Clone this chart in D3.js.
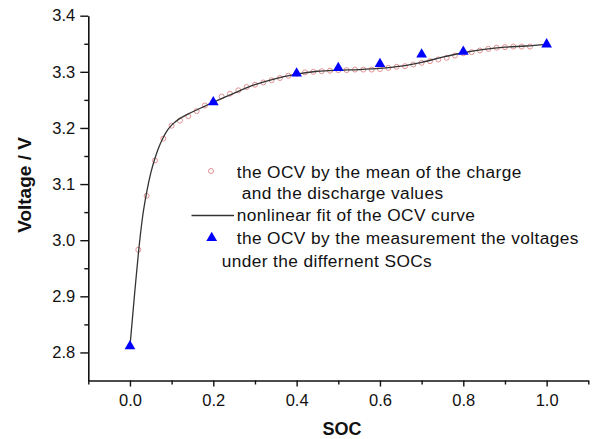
<!DOCTYPE html>
<html><head><meta charset="utf-8">
<script src="https://cdn.jsdelivr.net/npm/d3@7"></script>
<style>
html,body{margin:0;padding:0;background:#fff;}
svg{display:block;font-family:"Liberation Sans",Arial,Helvetica,sans-serif;}
</style></head><body>
<svg id="chart" width="592" height="439"></svg>
<script>
// Mean OCV (circles)
const meanSOC = [0.02,0.04,0.06,0.08,0.10,0.12,0.14,0.16,0.18,0.20,0.22,0.24,0.26,0.28,0.30,0.32,0.34,0.36,0.38,0.40,0.42,0.44,0.46,0.48,0.50,0.52,0.54,0.56,0.58,0.60,0.62,0.64,0.66,0.68,0.70,0.72,0.74,0.76,0.78,0.80,0.82,0.84,0.86,0.88,0.90,0.92,0.94,0.96];
const meanOCV = [2.983,3.079,3.142,3.181,3.204,3.213,3.221,3.230,3.240,3.247,3.256,3.261,3.267,3.273,3.277,3.281,3.285,3.289,3.293,3.297,3.299,3.300,3.301,3.302,3.303,3.303,3.304,3.304,3.304,3.305,3.307,3.309,3.310,3.313,3.316,3.319,3.322,3.325,3.329,3.333,3.335,3.338,3.341,3.343,3.344,3.345,3.345,3.345];
// Nonlinear fit (line)
const fitSOC = [0.00,0.01,0.02,0.03,0.04,0.05,0.06,0.07,0.08,0.09,0.10,0.12,0.14,0.16,0.18,0.20,0.25,0.30,0.35,0.40,0.45,0.50,0.55,0.60,0.65,0.70,0.75,0.80,0.85,0.90,0.95,1.00];
const fitOCV = [2.811,2.895,2.975,3.040,3.085,3.120,3.146,3.167,3.183,3.196,3.205,3.217,3.225,3.232,3.239,3.246,3.262,3.277,3.288,3.296,3.301,3.303,3.304,3.306,3.310,3.317,3.326,3.334,3.340,3.344,3.346,3.349];
// Measured OCV (triangles)
const measSOC = [0.0,0.2,0.4,0.5,0.6,0.7,0.8,1.0];
const measOCV = [2.811,3.246,3.297,3.307,3.314,3.331,3.336,3.349];
// Ticks
const xMajor = [0.0,0.2,0.4,0.6,0.8,1.0];
const xMinor = [-0.1,0.1,0.3,0.5,0.7,0.9,1.1];
const yMajor = [2.8,2.9,3.0,3.1,3.2,3.3,3.4];
const yMinor = [2.85,2.95,3.05,3.15,3.25,3.35];
const legendLabels = ["the OCV by the mean of the charge","and the discharge values","nonlinear fit of the OCV curve","the OCV by the measurement the voltages","under the differnent SOCs"];

const svg = d3.select("#chart");
const x = d3.scaleLinear().domain([-0.1,1.1]).range([88.3,588.3]);
const y = d3.scaleLinear().domain([2.75,3.4]).range([380.5,15.7]);

// x axis
const gx = svg.append("g").attr("transform","translate(0,380.5)");
gx.call(d3.axisBottom(x).tickValues(xMinor).tickSize(4).tickSizeOuter(0).tickFormat(""));
gx.append("g").call(d3.axisBottom(x).tickValues(xMajor).tickSize(6).tickPadding(8).tickFormat(d3.format(".1f")));
gx.selectAll("path.domain").attr("stroke","#111").attr("stroke-width",1.6);
gx.selectAll(".tick line").attr("stroke","#111").attr("stroke-width",1.4);
gx.selectAll(".tick text").attr("font-size",16.5).attr("fill","#111").attr("font-family","Liberation Sans, Arial, sans-serif");
gx.selectAll("g g path.domain").remove();

// y axis
const gy = svg.append("g").attr("transform","translate(88.3,0)");
gy.call(d3.axisLeft(y).tickValues(yMinor).tickSize(4).tickSizeOuter(0).tickFormat(""));
gy.append("g").call(d3.axisLeft(y).tickValues(yMajor).tickSize(8).tickPadding(5).tickFormat(d3.format(".1f")));
gy.selectAll("path.domain").attr("stroke","#111").attr("stroke-width",1.6);
gy.selectAll(".tick line").attr("stroke","#111").attr("stroke-width",1.4);
gy.selectAll(".tick text").attr("font-size",16.5).attr("fill","#111").attr("font-family","Liberation Sans, Arial, sans-serif");
gy.selectAll("g g path.domain").remove();

// titles
svg.append("text").attr("transform","translate(31,185) rotate(-90)").attr("text-anchor","middle")
  .attr("font-size",19).attr("font-weight","bold").attr("fill","#111").text("Voltage / V");
svg.append("text").attr("x",342).attr("y",435).attr("text-anchor","middle")
  .attr("font-size",18).attr("font-weight","bold").attr("fill","#111").text("SOC");

// circles
const meanData = meanSOC.map((s,i)=>({s,v:meanOCV[i]}));
svg.append("g").selectAll("circle").data(meanData).join("circle")
  .attr("cx",d=>x(d.s)).attr("cy",d=>y(d.v)).attr("r",2.5)
  .attr("fill","none").attr("stroke","#e39292").attr("stroke-width",1);

// fit line
const fitData = fitSOC.map((s,i)=>({s,v:fitOCV[i]}));
svg.append("path").datum(fitData)
  .attr("d",d3.line().x(d=>x(d.s)).y(d=>y(d.v)).curve(d3.curveMonotoneX))
  .attr("fill","none").attr("stroke","#333").attr("stroke-width",1.3);

// triangles
const tri = d3.symbol().type(d3.symbolTriangle).size(50);
const measData = measSOC.map((s,i)=>({s,v:measOCV[i]}));
svg.append("g").selectAll("path").data(measData).join("path")
  .attr("d",tri).attr("transform",d=>`translate(${x(d.s)},${y(d.v)})`)
  .attr("fill","#0000ff");

// legend
const lg = svg.append("g").attr("font-size",17.3).attr("fill","#111").attr("letter-spacing","0.4");
lg.append("circle").attr("cx",211).attr("cy",171).attr("r",2.5).attr("fill","none").attr("stroke","#e39292").attr("stroke-width",1);
lg.append("line").attr("x1",191.5).attr("x2",234).attr("y1",215.5).attr("y2",215.5).attr("stroke","#333").attr("stroke-width",1.3);
lg.append("path").attr("d",tri).attr("transform","translate(211.7,238)").attr("fill","#0000ff");
const lx = [236.7,241.7,236.7,236.7,221.7];
const ly = [177.5,199,221,244,266.5];
lg.selectAll("text").data(legendLabels).join("text")
  .attr("x",(d,i)=>lx[i]).attr("y",(d,i)=>ly[i]).text(d=>d);
</script>
</body></html>
